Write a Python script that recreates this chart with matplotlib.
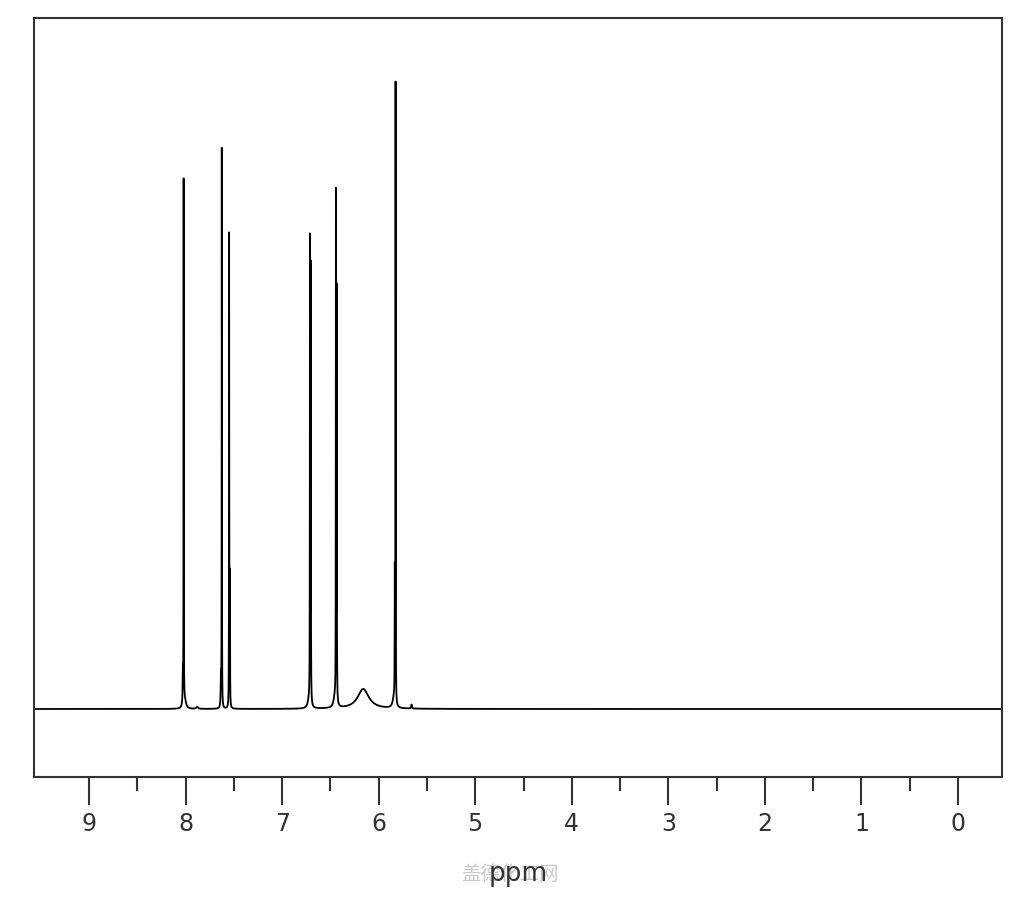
import numpy as np
import matplotlib.pyplot as plt

# peak list: position (ppm), height (arbitrary units), half width (ppm)
peak_ppm = [8.020, 8.028, 8.008, 7.625, 7.634, 7.549, 7.541, 6.712, 6.704, 6.722,
            6.443, 6.435, 6.455, 6.160, 5.825, 5.833, 5.842, 5.660, 7.880]
peak_height = [522, 30, 8, 558, 30, 472, 130, 455, 435, 8,
               500, 410, 10, 20, 618, 125, 10, 4, 2]
peak_width = [0.0012, 0.003, 0.015, 0.0012, 0.003, 0.0012, 0.0015, 0.0012, 0.0015, 0.015,
              0.0012, 0.0015, 0.015, 0.07, 0.0012, 0.0015, 0.015, 0.004, 0.01]

tick_major = list(range(9, -1, -1))
tick_minor = [8.5, 7.5, 6.5, 5.5, 4.5, 3.5, 2.5, 1.5, 0.5]

ppm = np.linspace(9.6, -0.5, 400001)
intensity = np.zeros_like(ppm)
for p, h, w in zip(peak_ppm, peak_height, peak_width):
    intensity += h * w**2 / ((ppm - p) ** 2 + w**2)

fig = plt.figure(figsize=(10.24, 9), dpi=100)
ax = fig.add_axes([34 / 1024, 1 - 777 / 900, 968 / 1024, 759 / 900])

ax.plot(ppm, intensity, color="black", lw=1.3)
ax.set_xlim(9.57, -0.456)
ax.set_ylim(-68, 691)

ax.set_xticks(tick_major)
ax.set_xticks(tick_minor, minor=True)
ax.set_xticklabels([str(t) for t in tick_major])
ax.tick_params(axis="x", which="major", length=20, width=1.5, color="#333333",
               labelsize=17, labelcolor="#333333", pad=5)
ax.tick_params(axis="x", which="minor", length=10, width=1.5, color="#333333")
ax.set_yticks([])
for s in ax.spines.values():
    s.set_linewidth(1.5)
    s.set_color("#333333")

ax.set_xlabel("ppm", fontsize=19, color="#333333", labelpad=18)

# watermark of the source site
fig.text(510 / 1024, 1 - 875 / 900, "盖德化工网", fontsize=14, color="#bbbbbb",
         ha="center", va="center", family=["Noto Sans CJK SC", "DejaVu Sans"],
         alpha=0.8, zorder=-1)

fig.savefig("out.png")
